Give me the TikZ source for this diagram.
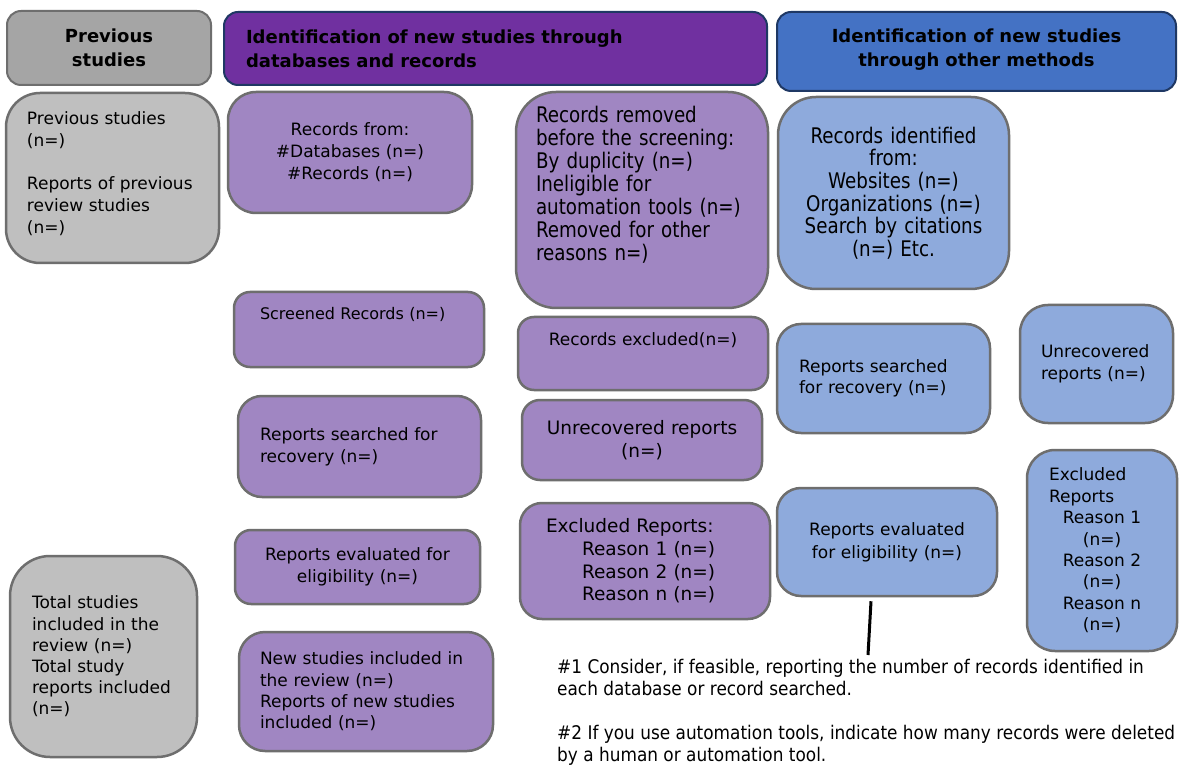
\documentclass[tikz,border=0pt]{standalone}
\usepackage{fontspec}
\setmainfont{DejaVu Sans}
\newfontfamily\narrowfont[FakeStretch=0.85]{DejaVu Sans}
\newfontfamily\notefont[FakeStretch=0.9]{DejaVu Sans}
\usetikzlibrary{positioning}
\definecolor{headgray}{HTML}{A5A5A5}
\definecolor{boxgray}{HTML}{BFBFBF}
\definecolor{headpurple}{HTML}{7030A0}
\definecolor{boxpurple}{HTML}{A086C2}
\definecolor{headblue}{HTML}{4472C4}
\definecolor{boxblue}{HTML}{8EAADC}
\definecolor{bordgray}{HTML}{6E6E6E}
\definecolor{bordnavy}{HTML}{1F3864}
\tikzset{
    myhead/.style = {rectangle, rounded corners=14pt, line width=2pt, draw=bordnavy, inner sep=0pt, font=\bfseries\fontsize{18}{24}\selectfont, text=black},
    myheadg/.style = {myhead, draw=bordgray, fill=headgray},
    myheadp/.style = {myhead, fill=headpurple},
    myheadb/.style = {myhead, fill=headblue},
    mybox/.style = {rectangle, line width=2.5pt, draw=bordgray, inner sep=0pt, font=\fontsize{17}{22}\selectfont, text=black},
    myboxg/.style = {mybox, fill=boxgray},
    myboxp/.style = {mybox, fill=boxpurple},
    myboxb/.style = {mybox, fill=boxblue},
    edgen/.style = {-, line width=3pt, black},
}

\begin{document}
\begin{tikzpicture}[x=1pt, y=-1pt]
  \fill[white] (0,0) rectangle (1185,783);
  \useasboundingbox (0,0) rectangle (1185,783);
  % headers
  \node[myheadg, minimum width=204pt, minimum height=74pt, text width=180pt, align=center] (hprev) at (109,48) {Previous\\studies};
  \node[myheadp, minimum width=543pt, minimum height=73pt, text width=499pt, align=left] (hdb) at (495.5,48.5) {Identification of new studies through\\databases and records};
  \node[myheadb, minimum width=399pt, minimum height=79pt, text width=360pt, align=center] (hother) at (976.5,51.5) {Identification of new studies\\through other methods\\[-16pt]\mbox{}};
  % previous studies
  \node[myboxg, minimum width=213pt, minimum height=170pt, text width=171pt, align=left, rounded corners=34pt] (prev) at (112.5,178) {Previous studies\\(n=)\\[21pt]Reports of previous\\review studies\\(n=)\\[-12pt]\mbox{}};
  \node[myboxg, minimum width=187pt, minimum height=201pt, text width=143pt, align=left, rounded corners=40pt, font=\fontsize{17}{21.2}\selectfont] (total) at (103.5,656.5) {Total studies\\included in the\\review (n=)\\Total study\\reports included\\(n=)};
  % databases and records
  \node[myboxp, minimum width=244pt, minimum height=121pt, text width=200pt, align=center, rounded corners=28pt] (recfrom) at (350,152.5) {Records from:\\\#Databases (n=)\\\#Records (n=)};
  \node[myboxp, minimum width=250pt, minimum height=75pt, text width=198pt, align=left, rounded corners=16pt, font=\fontsize{16}{22}\selectfont] (screened) at (359,329.5) {Screened Records (n=)\\[11pt]\mbox{}};
  \node[myboxp, minimum width=243pt, minimum height=101pt, text width=199pt, align=left, rounded corners=24pt] (searchp) at (359.5,446.5) {Reports searched for\\recovery (n=)};
  \node[myboxp, minimum width=245pt, minimum height=74pt, text width=215pt, align=center, rounded corners=16pt] (evalp) at (357.5,567) {Reports evaluated for\\eligibility (n=)};
  \node[myboxp, minimum width=254pt, minimum height=119pt, text width=212pt, align=left, rounded corners=26pt, font=\fontsize{17}{21.3}\selectfont] (newp) at (366,691.5) {New studies included in\\the review (n=)\\Reports of new studies\\included (n=)};
  \node[myboxp, minimum width=252pt, minimum height=216pt, text width=212pt, align=left, rounded corners=40pt, font=\narrowfont\fontsize{21.5}{23}\selectfont] (removed) at (642,200) {Records removed\\before the screening:\\By duplicity (n=)\\Ineligible for\\automation tools (n=)\\Removed for other\\reasons n=)\\[10pt]\mbox{}};
  \node[myboxp, minimum width=250pt, minimum height=73pt, text width=220pt, align=center, rounded corners=16pt] (recexcl) at (643,353.5) {Records excluded(n=)\\[7pt]\mbox{}};
  \node[myboxp, minimum width=240pt, minimum height=80pt, text width=220pt, align=center, rounded corners=18pt, font=\fontsize{18.5}{23}\selectfont] (unrecp) at (642,440) {Unrecovered reports\\(n=)};
  \node[myboxp, minimum width=250pt, minimum height=116pt, text width=198pt, align=left, rounded corners=22pt, font=\fontsize{18.5}{22.7}\selectfont] (exclp) at (645,561) {Excluded Reports:\\\hspace*{36pt}Reason 1 (n=)\\\hspace*{36pt}Reason 2 (n=)\\\hspace*{36pt}Reason n (n=)};
  % other methods
  \node[myboxb, minimum width=231pt, minimum height=192pt, text width=200pt, align=center, rounded corners=38pt, font=\narrowfont\fontsize{21.5}{22.6}\selectfont] (ident) at (893.5,193) {Records identified\\from:\\Websites (n=)\\Organizations (n=)\\Search by citations\\(n=) Etc.};
  \node[myboxb, minimum width=213pt, minimum height=109pt, text width=169pt, align=left, rounded corners=24pt, font=\fontsize{17}{21}\selectfont] (searchb) at (883.5,378.5) {Reports searched\\for recovery (n=)};
  \node[myboxb, minimum width=153pt, minimum height=118pt, text width=111pt, align=left, rounded corners=28pt] (unrecb) at (1096.5,364) {Unrecovered\\reports (n=)};
  \node[myboxb, minimum width=220pt, minimum height=108pt, text width=190pt, align=center, rounded corners=24pt, font=\fontsize{17}{23}\selectfont] (evalb) at (887,542) {Reports evaluated\\for eligibility (n=)};
  \node[myboxb, minimum width=150pt, minimum height=201pt, text width=106pt, align=center, rounded corners=28pt, font=\fontsize{17}{21.4}\selectfont] (exclb) at (1102,550.5) {\makebox[106pt][l]{Excluded}\\\makebox[106pt][l]{Reports}\\Reason 1\\(n=)\\Reason 2\\(n=)\\Reason n\\(n=)};
  \coordinate (stemend) at (868,655);
  \draw[edgen] (evalb.south) ++(-16,4) -- (stemend);
  % notes
  \node[anchor=west, align=left, inner sep=0pt, font=\notefont\fontsize{18.8}{22}\selectfont] (notes) at (557,712) {\#1 Consider, if feasible, reporting the number of records identified in\\each database or record searched.\\[22pt]\#2 If you use automation tools, indicate how many records were deleted\\by a human or automation tool.};
\end{tikzpicture}
\end{document}
